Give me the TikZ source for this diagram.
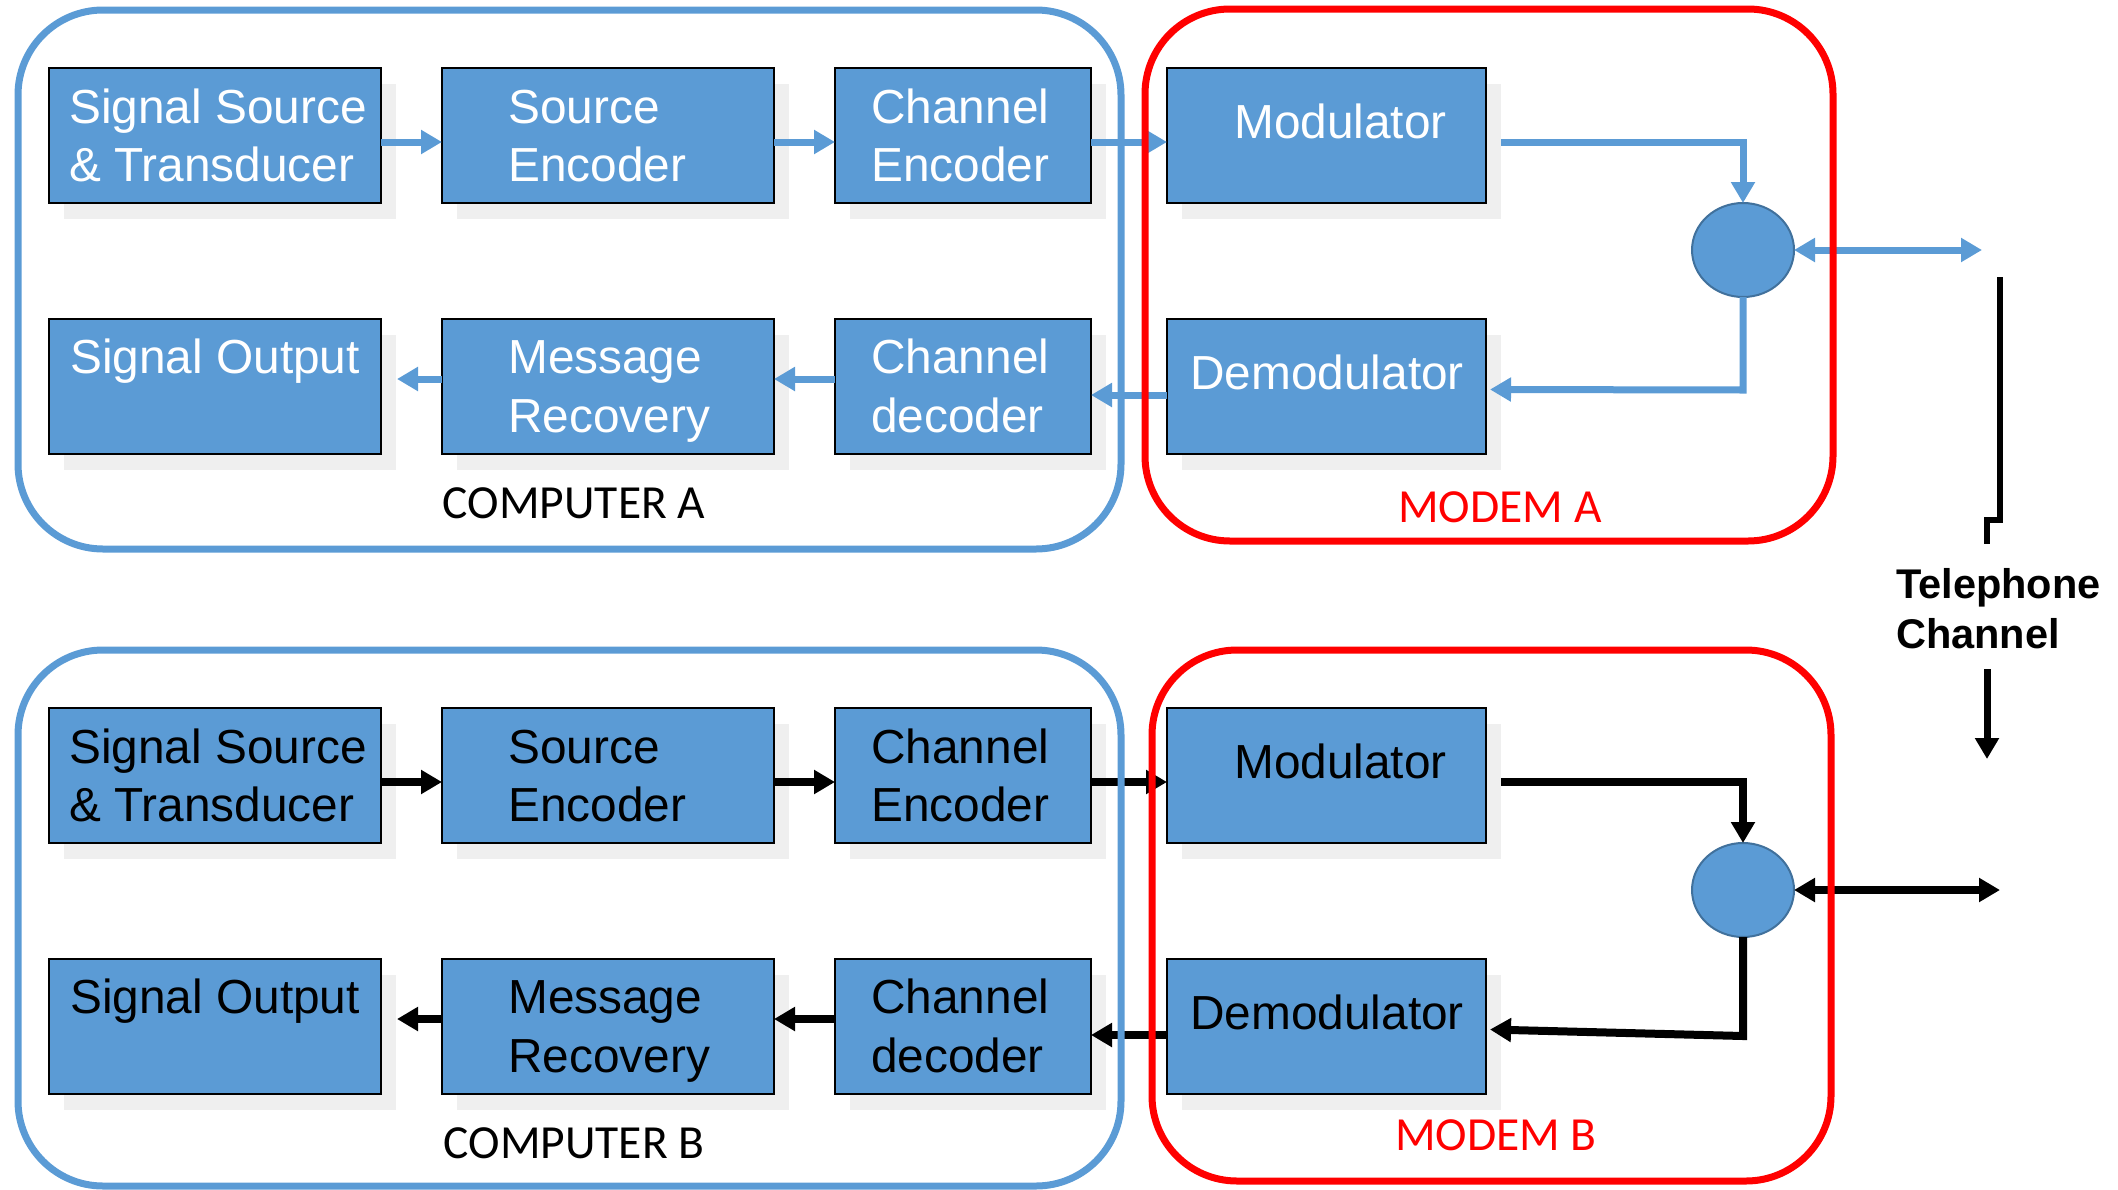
\documentclass[tikz,border=0pt]{standalone}
\usepackage{fontspec}
\setmainfont{Liberation Sans}
\newfontfamily\labelfont{Carlito}
\usetikzlibrary{arrows.meta,shapes.geometric,shadows}
\definecolor{boxblue}{HTML}{5B9BD5}
\definecolor{frameblue}{HTML}{5B9BD5}
\definecolor{ringblue}{HTML}{41719C}
\definecolor{shadowc}{HTML}{EFEFEF}
\definecolor{modemred}{HTML}{FF0000}

\begin{document}
\begin{tikzpicture}[x=1pt,y=-1pt,
  block/.style={draw=black, line width=2.5pt, fill=boxblue, minimum height=135pt,
    inner sep=0pt, outer sep=0pt, anchor=north west,
    general shadow={shadow xshift=15pt, shadow yshift=-16pt, fill=shadowc}},
  widebox/.style={block, minimum width=332pt},
  narrowbox/.style={block, minimum width=256pt},
  modbox/.style={block, minimum width=319pt},
  hybrid/.style={ellipse, draw=ringblue, line width=2pt, fill=boxblue,
    minimum width=102pt, minimum height=94pt, inner sep=0pt, outer sep=0pt},
  txt/.style={anchor=base west, inner sep=0pt, font=\fontsize{47.8}{57}\selectfont},
  grouplabel/.style={anchor=base, inner sep=0pt, font=\labelfont\fontsize{47.5}{56}\selectfont},
  tip/.style={-{Triangle[length=21pt,width=23pt]}},
  twotips/.style={{Triangle[length=21pt,width=23pt]}-{Triangle[length=21pt,width=23pt]}},
  frame/.style={line width=7pt, rounded corners=85pt}
]
\useasboundingbox (0,0) rectangle (2118,1189);

% the two stations: same layout, shifted down for station B
\foreach \h/\dy/\ink/\fg/\lw/\tipx/\drop in
  {A/0/boxblue/white/7pt/1982/93, B/640/black/black/8pt/2000/99}{
\begin{scope}[shift={(0,\dy)}]
  % processing blocks
  \node[widebox]   (src\h)  at (49,68)   {};
  \node[widebox]   (senc\h) at (442,68)  {};
  \node[narrowbox] (cenc\h) at (835,68)  {};
  \node[modbox]    (mod\h)  at (1167,68) {};
  \node[widebox]   (out\h)  at (49,319)  {};
  \node[widebox]   (rec\h)  at (442,319) {};
  \node[narrowbox] (cdec\h) at (835,319) {};
  \node[modbox]    (dem\h)  at (1167,319) {};
  \node[hybrid]    (hyb\h)  at (1743,250) {};

  % block captions
  \node[txt, text=\fg] (tsrcA\h)  at (69,123)  {Signal Source};
  \node[txt, text=\fg] (tsrcB\h)  at (69,181)  {\& Transducer};
  \node[txt, text=\fg] (tsencA\h) at (508,123) {Source};
  \node[txt, text=\fg] (tsencB\h) at (508,181) {Encoder};
  \node[txt, text=\fg] (tcencA\h) at (871,123) {Channel};
  \node[txt, text=\fg] (tcencB\h) at (871,181) {Encoder};
  \node[txt, text=\fg] (tmod\h)   at (1234,138) {Modulator};
  \node[txt, text=\fg] (tout\h)   at (70,373)  {Signal Output};
  \node[txt, text=\fg] (trecA\h)  at (508,373) {Message};
  \node[txt, text=\fg] (trecB\h)  at (508,432) {Recovery};
  \node[txt, text=\fg] (tcdecA\h) at (871,373) {Channel};
  \node[txt, text=\fg] (tcdecB\h) at (871,432) {decoder};
  \node[txt, text=\fg] (tdem\h)   at (1190,389) {Demodulator};

  % transmit chain
  \draw[color=\ink, line width=\lw, tip] ([yshift=-6.5pt]src\h.east) -- ([yshift=-6.5pt]senc\h.west);
  \draw[color=\ink, line width=\lw, tip] ([yshift=-6.5pt]senc\h.east) -- ([yshift=-6.5pt]cenc\h.west);
  \draw[color=\ink, line width=\lw, tip] ([yshift=-6.5pt]cenc\h.east) -- ([yshift=-6.5pt]mod\h.west);
  \draw[color=\ink, line width=\lw, tip] ([shift={(15pt,-6.5pt)}]mod\h.east) -| (hyb\h.north);
  % receive chain
  \draw[color=\ink, line width=\lw, tip] (hyb\h.south) -- ++(0,\drop) -- ([shift={(4pt,-3pt)}]dem\h.east);
  \draw[color=\ink, line width=\lw, tip] ([yshift=-8.5pt]dem\h.west) -- ([yshift=-8.5pt]cdec\h.east);
  \draw[color=\ink, line width=\lw, tip] ([yshift=7.5pt]cdec\h.west) -- ([yshift=7.5pt]rec\h.east);
  \draw[color=\ink, line width=\lw, tip] ([yshift=7.5pt]rec\h.west) -- ([shift={(16pt,7.5pt)}]out\h.east);
  % line side of the hybrid
  \coordinate (line\h) at (\tipx,250);
  \draw[color=\ink, line width=\lw, twotips] (hyb\h.east) -- (line\h);
\end{scope}
}

% telephone channel between the stations
\coordinate (wireTop)  at (2000,277);
\coordinate (wireKnee) at (2000,520);
\coordinate (wireStep) at (1987,520);
\coordinate (wireEnd)  at (1987,544);
\draw[black, line width=6pt] (wireTop) -- (wireKnee) -- (wireStep) -- (wireEnd);
\node[anchor=base west, inner sep=0pt, font=\bfseries\fontsize{41.5}{50}\selectfont] (telA) at (1896,598) {Telephone};
\node[anchor=base west, inner sep=0pt, font=\bfseries\fontsize{41.5}{50}\selectfont] (telB) at (1896,648) {Channel};
\coordinate (chanFrom) at (1987,669);
\coordinate (chanTo)   at (1987,759);
\draw[black, line width=7pt, tip] (chanFrom) -- (chanTo);

% enclosures
\draw[frame, frameblue] (18,10) rectangle (1121,549);
\draw[frame, modemred]  (1145,9) rectangle (1833,541);
\draw[frame, frameblue] (18,650) rectangle (1121,1186);
\draw[frame, modemred]  (1152,650) rectangle (1831,1181);

\node[grouplabel] (labCA) at (574,518)  {COMPUTER A};
\node[grouplabel, text=modemred] (labMA) at (1500,522) {MODEM A};
\node[grouplabel] (labCB) at (574,1158) {COMPUTER B};
\node[grouplabel, text=modemred] (labMB) at (1496,1150) {MODEM B};
\end{tikzpicture}
\end{document}
